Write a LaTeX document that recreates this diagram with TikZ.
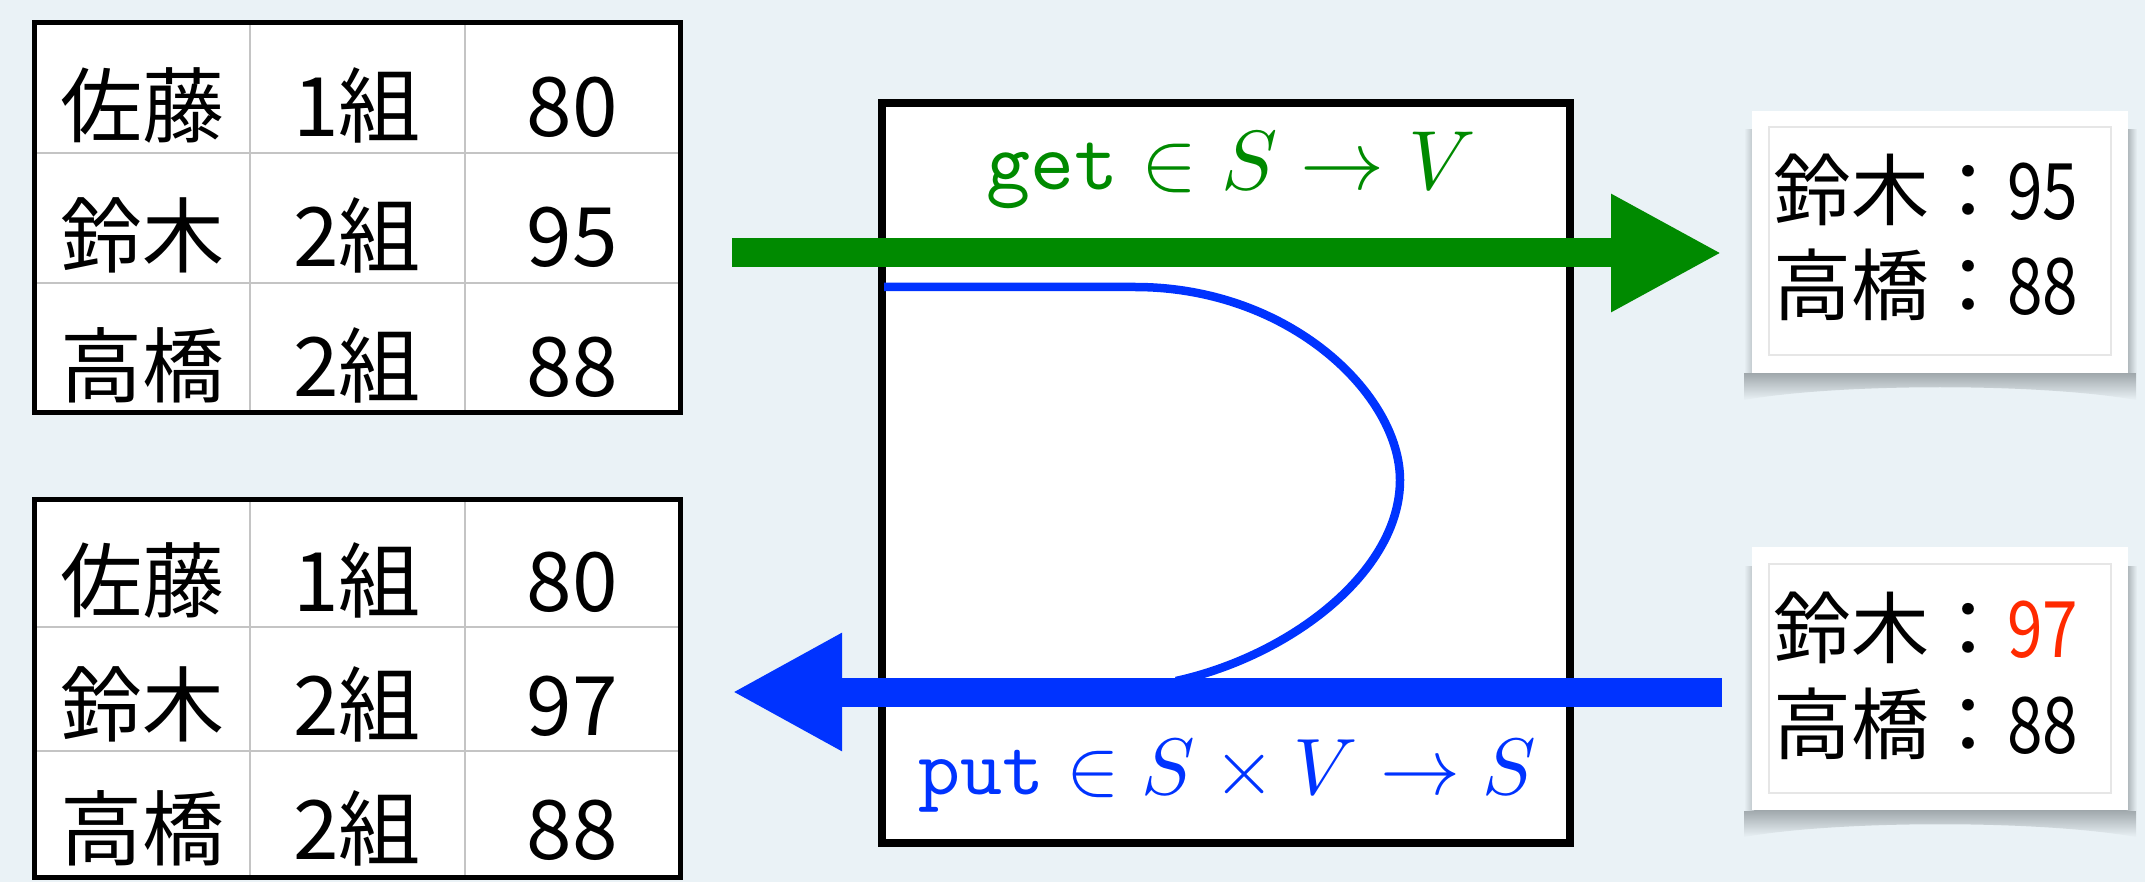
\documentclass[tikz,border=0pt]{standalone}
\usepackage{fontspec}
\usepackage{graphicx}
\newfontfamily\jp{Noto Sans CJK JP}
\usetikzlibrary{arrows.meta}
\definecolor{bg}{HTML}{EAF2F6}
\definecolor{ggreen}{HTML}{008A00}
\definecolor{bblue}{HTML}{0033FF}
\definecolor{gridgray}{HTML}{C4C4C4}
\definecolor{redval}{HTML}{FF2A00}
\definecolor{sh}{HTML}{868E92}
\definecolor{innerline}{HTML}{E6E6E6}
\newcommand{\dg}[1]{\scalebox{0.82}[1]{#1}}
\tikzset{
  cell/.style={font=\jp\fontsize{82}{98}\selectfont, inner sep=0pt, anchor=base},
  gridline/.style={gridgray, line width=2.5pt},
  tborder/.style={black, line width=5pt},
  lensbox/.style={draw=black, fill=white, line width=8pt, inner sep=0pt},
  garrow/.style={ggreen, line width=29pt, -{Triangle[length=111pt,width=110pt]}},
  barrow/.style={bblue, line width=29pt, -{Triangle[length=110pt,width=110pt]}},
  putcurve/.style={bblue, line width=8.5pt},
  rbox/.style={fill=white, inner sep=0pt, minimum width=376pt},
  rtext/.style={font=\jp\fontsize{78}{94}\selectfont, inner sep=0pt, anchor=base west},
  lbl/.style={inner sep=0pt, anchor=base}
}
\begin{document}
\begin{tikzpicture}[x=1pt,y=-1pt]
\useasboundingbox (0,0) rectangle (2145,882);
\fill[bg] (0,0) rectangle (2145,882);

% ---------- top table ----------
\fill[white] (34,23) rectangle (680,413);
\draw[gridline] (250,23) -- (250,413) (465,23) -- (465,413)
                (34,153) -- (680,153) (34,283) -- (680,283);
\draw[tborder] (34,23) rectangle (680,413);
\node[cell] (t11) at (142,137) {佐藤};
\node[cell] (t12) at (357,137) {1組};
\node[cell] (t13) at (572,137) {80};
\node[cell] (t21) at (142,267) {鈴木};
\node[cell] (t22) at (357,267) {2組};
\node[cell] (t23) at (572,267) {95};
\node[cell] (t31) at (142,397) {高橋};
\node[cell] (t32) at (357,397) {2組};
\node[cell] (t33) at (572,397) {88};

% ---------- bottom table ----------
\fill[white] (34,499) rectangle (680,877);
\draw[gridline] (250,499) -- (250,877) (465,499) -- (465,877)
                (34,627) -- (680,627) (34,751) -- (680,751);
\draw[tborder] (34,499) rectangle (680,877);
\node[cell] (b11) at (142,611) {佐藤};
\node[cell] (b12) at (357,611) {1組};
\node[cell] (b13) at (572,611) {80};
\node[cell] (b21) at (142,735) {鈴木};
\node[cell] (b22) at (357,735) {2組};
\node[cell] (b23) at (572,735) {97};
\node[cell] (b31) at (142,859) {高橋};
\node[cell] (b32) at (357,859) {2組};
\node[cell] (b33) at (572,859) {88};

% ---------- middle box ----------
\node[lensbox, minimum width=688pt, minimum height=740pt] (lens) at (1226,473) {};
\node[lbl, text=ggreen] (getl) at (1231,190) {\scalebox{8.4}{$\texttt{get}\in S\to V$}};
\node[lbl, text=bblue] (putl) at (1227,794) {\scalebox{8.0}{$\texttt{put}\in S\times V\to S$}};

% ---------- right boxes with shadows ----------
\shade[top color=sh, bottom color=bg] (1744,364) -- (1744,400) .. controls (1840,383) and (2040,383) .. (2136,400) -- (2136,364) -- cycle;
\shade[left color=sh!70!bg, right color=bg] (2126,130) rectangle (2137,373);
\shade[left color=bg, right color=sh!50!bg] (1744,130) rectangle (1754,373);
\node[rbox, minimum height=262pt] (r1) at (1940,242) {};
\draw[innerline, line width=1.2pt] (1769,127) rectangle (2111,355);
\node[rtext] (r1a) at (1773,220) {鈴木：\dg{95}};
\node[rtext] (r1b) at (1773,315) {高橋：\dg{88}};

\shade[top color=sh, bottom color=bg] (1744,801) -- (1744,837) .. controls (1840,820) and (2040,820) .. (2136,837) -- (2136,801) -- cycle;
\shade[left color=sh!70!bg, right color=bg] (2126,566) rectangle (2137,810);
\shade[left color=bg, right color=sh!50!bg] (1744,566) rectangle (1754,810);
\node[rbox, minimum height=263pt] (r2) at (1940,678.5) {};
\draw[innerline, line width=1.2pt] (1769,564) rectangle (2111,793);
\node[rtext] (r2a) at (1773,657) {鈴木：\textcolor{redval}{\dg{97}}};
\node[rtext] (r2b) at (1773,753) {高橋：\dg{88}};

% ---------- arrows ----------
\coordinate (gs) at (732,253);
\coordinate (ge) at (1722,253);
\draw[garrow] (gs) -- (ge);

\coordinate (pc0) at (884,287);
\coordinate (pc1) at (1135,287);
\coordinate (pc2) at (1400,480);
\coordinate (pc3) at (1176,681);
\draw[putcurve] (pc0) -- (pc1) .. controls (1290,287) and (1400,395) .. (pc2)
   .. controls (1400,572) and (1290,656) .. (pc3);

\coordinate (bs) at (1722,692);
\coordinate (be) at (732,692);
\draw[barrow] (bs) -- (be);
\end{tikzpicture}
\end{document}
